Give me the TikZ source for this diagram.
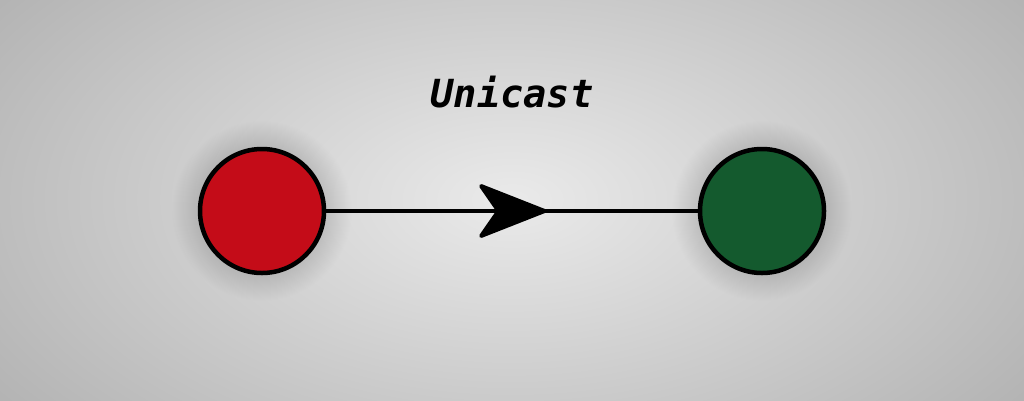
\documentclass[tikz,border=0pt]{standalone}
\usepackage{fontspec}
\newfontfamily\monofont{DejaVu Sans Mono}
\usetikzlibrary{arrows.meta,decorations.markings}
\definecolor{redfill}{HTML}{C40C18}
\definecolor{greenfill}{HTML}{145A2E}
\tikzset{
  dot/.style={circle,draw=black,line width=4.5pt,inner sep=0pt,minimum size=124pt},
  link/.style={line width=4pt,black},
  title/.style={font=\monofont\bfseries\itshape\fontsize{38.7}{40}\selectfont,text=black,anchor=base,inner sep=0pt}
}
\begin{document}
\begin{tikzpicture}[x=1pt,y=-1pt]
\useasboundingbox (0,0) rectangle (1024,400);
\begin{scope}
\clip (0,0) rectangle (1024,400);
\foreach \i in {60,59,...,0}{
  \pgfmathtruncatemacro{\v}{234-\i}
  \pgfmathsetmacro{\rx}{11.537*(\i+0.5)}
  \pgfmathsetmacro{\ry}{6.397*(\i+0.5)}
  \fill[fill={rgb,255:red,\v;green,\v;blue,\v}] (512,200) ellipse [x radius=\rx, y radius=\ry];
}
% soft shadows around circles
\foreach \r in {90,89,...,64}{
  \fill[black,opacity=0.005] (262,211) circle [radius=\r];
  \fill[black,opacity=0.005] (762,211) circle [radius=\r];
}
\end{scope}
\node[dot,fill=redfill] (src) at (262,211) {};
\node[dot,fill=greenfill] (dst) at (762,211) {};
\draw[link,decoration={markings,mark=at position 0.593 with {\arrow{Stealth[length=74pt,width=58pt,inset=20pt,round]}}},postaction={decorate}] (src) -- (dst);
\node[title] (lbl) at (512,107) {Unicast};
\end{tikzpicture}
\end{document}
